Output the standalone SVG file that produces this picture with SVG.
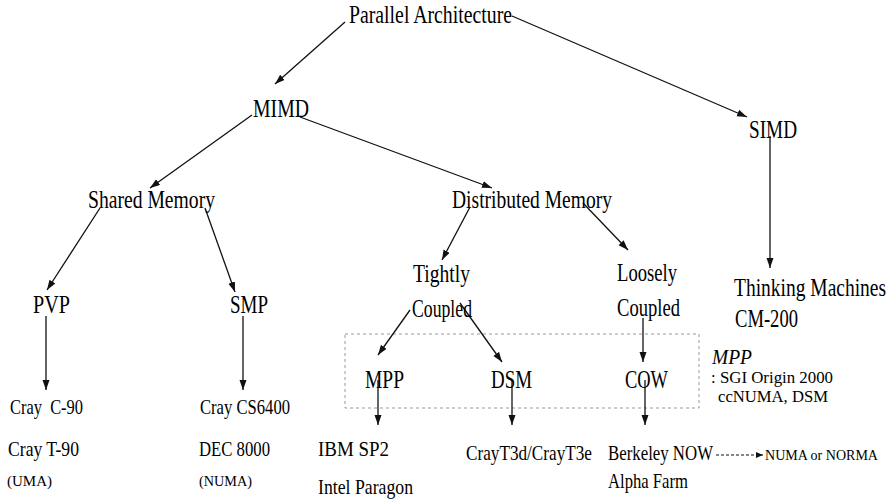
<svg xmlns="http://www.w3.org/2000/svg" width="895" height="501" viewBox="0 0 895 501">
<style>
text{font-family:"Liberation Serif","Times New Roman",serif;fill:#000;}
.l{font-size:26px;}
.m{font-size:21px;}
.n{font-size:17px;}
.s{font-size:15px;}
.c line{stroke:#111;stroke-width:1.3;fill:none;marker-end:url(#ah);}
.c line.d{stroke-dasharray:3,2;stroke-width:1;marker-end:url(#ahs);}
.box{fill:none;stroke:#999;stroke-width:1;stroke-dasharray:3,3;}
</style>
<defs>
<marker id="ah" markerUnits="userSpaceOnUse" markerWidth="10" markerHeight="8" refX="10" refY="3.5" orient="auto"><path d="M0,0 L10,3.5 L0,7 z" fill="#111"/></marker>
<marker id="ahs" markerUnits="userSpaceOnUse" markerWidth="7" markerHeight="6" refX="7" refY="3" orient="auto"><path d="M0,0 L7,3 L0,6 z" fill="#111"/></marker>
</defs>
<rect class="box" x="345" y="334" width="354" height="74"/>
<g class="c" id="connectors">
<line x1="345" y1="22" x2="275" y2="84"/>
<line x1="512" y1="16" x2="747" y2="117"/>
<line x1="252" y1="115" x2="150" y2="188"/>
<line x1="300" y1="117" x2="492" y2="188"/>
<line x1="770" y1="136" x2="770" y2="268"/>
<line x1="100" y1="208" x2="47" y2="290"/>
<line x1="205" y1="208" x2="235" y2="292"/>
<line x1="470" y1="207" x2="442" y2="260"/>
<line x1="583" y1="203" x2="628" y2="250"/>
<line x1="46" y1="316" x2="46" y2="390"/>
<line x1="243" y1="316" x2="243" y2="390"/>
<line x1="410" y1="310" x2="378" y2="355"/>
<line x1="460" y1="303" x2="502" y2="362"/>
<line x1="643" y1="318" x2="643" y2="362"/>
<line x1="378" y1="380" x2="378" y2="425"/>
<line x1="512" y1="380" x2="512" y2="425"/>
<line x1="645" y1="380" x2="645" y2="425"/>
<line class="d" x1="716" y1="455" x2="763" y2="455"/>
</g>
<g id="parallel"><text class="l" x="349" y="23" textLength="163" lengthAdjust="spacingAndGlyphs">Parallel Architecture</text></g>
<g id="mimd"><text class="l" x="253" y="117" textLength="56" lengthAdjust="spacingAndGlyphs">MIMD</text></g>
<g id="simd"><text class="l" x="749" y="138" textLength="48" lengthAdjust="spacingAndGlyphs">SIMD</text></g>
<g id="shared"><text class="l" x="88" y="208" textLength="127" lengthAdjust="spacingAndGlyphs">Shared Memory</text></g>
<g id="distributed"><text class="l" x="452" y="208" textLength="160" lengthAdjust="spacingAndGlyphs">Distributed Memory</text></g>
<g id="tightly"><text class="l" x="413" y="282" textLength="57" lengthAdjust="spacingAndGlyphs">Tightly</text><text class="l" x="412" y="317" textLength="60" lengthAdjust="spacingAndGlyphs">Coupled</text></g>
<g id="loosely"><text class="l" x="617" y="281" textLength="60" lengthAdjust="spacingAndGlyphs">Loosely</text><text class="l" x="617" y="316" textLength="63" lengthAdjust="spacingAndGlyphs">Coupled</text></g>
<g id="pvp"><text class="l" x="33" y="313" textLength="37" lengthAdjust="spacingAndGlyphs">PVP</text></g>
<g id="smp"><text class="l" x="230" y="313" textLength="38" lengthAdjust="spacingAndGlyphs">SMP</text></g>
<g id="thinking"><text class="l" transform="translate(734,296) scale(0.75,1)">Thinking Machines</text><text class="l" x="735" y="327" textLength="63" lengthAdjust="spacingAndGlyphs">CM-200</text></g>
<g id="mpp"><text class="l" x="365" y="388" textLength="39" lengthAdjust="spacingAndGlyphs">MPP</text></g>
<g id="dsm"><text class="l" x="491" y="388" textLength="41" lengthAdjust="spacingAndGlyphs">DSM</text></g>
<g id="cow"><text class="l" x="625" y="388" textLength="43" lengthAdjust="spacingAndGlyphs">COW</text></g>
<g id="note"><text class="m" x="712" y="364" font-style="italic" textLength="40" lengthAdjust="spacingAndGlyphs">MPP</text><text class="n" x="711" y="383" textLength="122" lengthAdjust="spacingAndGlyphs">: SGI Origin 2000</text><text class="n" x="718" y="402" textLength="110" lengthAdjust="spacingAndGlyphs">ccNUMA, DSM</text></g>
<g id="pvp-ex"><text class="m" x="10" y="414" textLength="73" lengthAdjust="spacingAndGlyphs" xml:space="preserve">Cray  C-90</text><text class="m" x="8" y="456" textLength="71" lengthAdjust="spacingAndGlyphs">Cray T-90</text><text class="s" x="7" y="486" textLength="45" lengthAdjust="spacingAndGlyphs">(UMA)</text></g>
<g id="smp-ex"><text class="m" x="200" y="414" textLength="90" lengthAdjust="spacingAndGlyphs">Cray CS6400</text><text class="m" x="199" y="456" textLength="71" lengthAdjust="spacingAndGlyphs">DEC 8000</text><text class="s" x="199" y="486" textLength="53" lengthAdjust="spacingAndGlyphs">(NUMA)</text></g>
<g id="mpp-ex"><text class="m" x="318" y="456" textLength="71" lengthAdjust="spacingAndGlyphs">IBM SP2</text><text class="m" x="318" y="494" textLength="95" lengthAdjust="spacingAndGlyphs">Intel Paragon</text></g>
<g id="dsm-ex"><text class="m" x="466" y="460" textLength="126" lengthAdjust="spacingAndGlyphs">CrayT3d/CrayT3e</text></g>
<g id="cow-ex"><text class="m" x="608" y="460" textLength="105" lengthAdjust="spacingAndGlyphs">Berkeley NOW</text><text class="m" x="608" y="488" textLength="80" lengthAdjust="spacingAndGlyphs">Alpha Farm</text></g>
<g id="numa"><text class="s" x="765" y="460" textLength="113" lengthAdjust="spacingAndGlyphs">NUMA or NORMA</text></g>
</svg>
